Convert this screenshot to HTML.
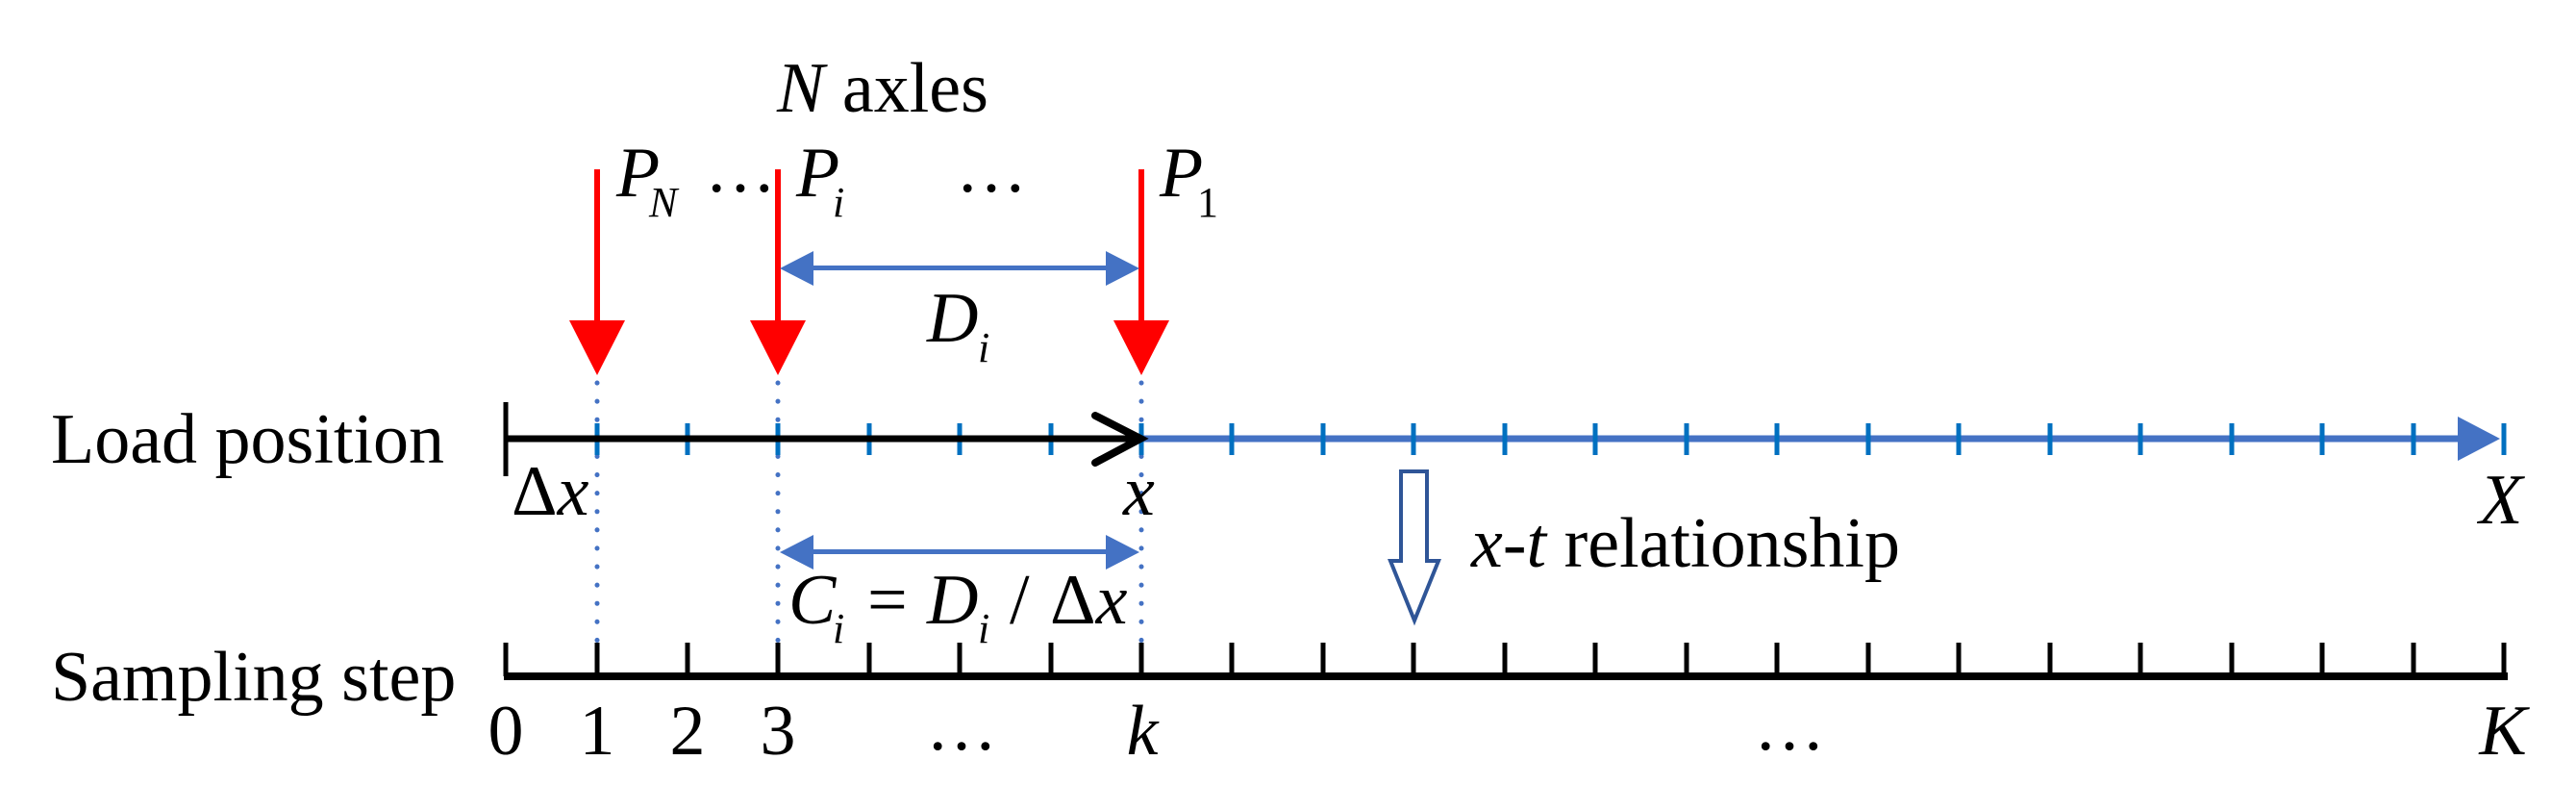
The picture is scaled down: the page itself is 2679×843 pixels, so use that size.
<!DOCTYPE html>
<html><head><meta charset="utf-8"><style>
html,body{margin:0;padding:0;background:#fff;}
svg{display:block;}
text{font-family:"Liberation Serif",serif;fill:#000;}
.i{font-style:italic;}
</style></head><body>
<svg width="2679" height="843" viewBox="0 0 2679 843" xmlns="http://www.w3.org/2000/svg">
<g font-size="74">
<text x="53" y="481">Load position</text>
<text x="53" y="728">Sampling step</text>
<text x="808" y="116"><tspan class="i">N</tspan> axles</text>
</g>
<!-- dotted lines -->
<g stroke="#4472c4" stroke-width="5" stroke-dasharray="0.1 19" stroke-linecap="round">
<line x1="621" y1="398" x2="621" y2="668"/>
<line x1="809" y1="398" x2="809" y2="668"/>
<line x1="1187" y1="398" x2="1187" y2="668"/>
</g>
<!-- red arrows -->
<g fill="#ff0000" stroke="none">
<rect x="618" y="176" width="6" height="160"/>
<polygon points="592,333 650,333 621,390"/>
<rect x="806" y="176" width="6" height="160"/>
<polygon points="780,333 838,333 809,390"/>
<rect x="1184" y="176" width="6" height="160"/>
<polygon points="1158,333 1216,333 1187,390"/>
</g>
<!-- D arrow -->
<g fill="#4472c4">
<rect x="840" y="276" width="320" height="5"/>
<polygon points="811,279 846,261 846,297"/>
<polygon points="1185,279 1150,261 1150,297"/>
<rect x="840" y="571" width="320" height="5"/>
<polygon points="811,574 846,556 846,592"/>
<polygon points="1185,574 1150,556 1150,592"/>
</g>
<!-- load axis -->
<line x1="1187" y1="456" x2="2560" y2="456" stroke="#4472c4" stroke-width="7"/>
<polygon points="2556,433 2600,456 2556,479" fill="#4472c4"/>
<g stroke="#0070c0" stroke-width="5">
<line x1="621" y1="440" x2="621" y2="473"/><line x1="715" y1="440" x2="715" y2="473"/><line x1="809" y1="440" x2="809" y2="473"/><line x1="904" y1="440" x2="904" y2="473"/><line x1="998" y1="440" x2="998" y2="473"/><line x1="1093" y1="440" x2="1093" y2="473"/><line x1="1187" y1="440" x2="1187" y2="473"/><line x1="1281" y1="440" x2="1281" y2="473"/><line x1="1376" y1="440" x2="1376" y2="473"/><line x1="1470" y1="440" x2="1470" y2="473"/><line x1="1565" y1="440" x2="1565" y2="473"/><line x1="1659" y1="440" x2="1659" y2="473"/><line x1="1754" y1="440" x2="1754" y2="473"/><line x1="1848" y1="440" x2="1848" y2="473"/><line x1="1943" y1="440" x2="1943" y2="473"/><line x1="2037" y1="440" x2="2037" y2="473"/><line x1="2132" y1="440" x2="2132" y2="473"/><line x1="2226" y1="440" x2="2226" y2="473"/><line x1="2321" y1="440" x2="2321" y2="473"/><line x1="2415" y1="440" x2="2415" y2="473"/><line x1="2510" y1="440" x2="2510" y2="473"/><line x1="2604" y1="440" x2="2604" y2="473"/>
</g>
<line x1="526" y1="456" x2="1184" y2="456" stroke="#000" stroke-width="7"/>
<line x1="526" y1="418" x2="526" y2="495" stroke="#000" stroke-width="5"/>
<polyline points="1139,432 1186,456 1139,481" fill="none" stroke="#000" stroke-width="8" stroke-linecap="round" stroke-linejoin="miter"/>
<!-- sampling axis -->
<line x1="524" y1="703" x2="2608" y2="703" stroke="#000" stroke-width="8"/>
<g stroke="#000" stroke-width="5">
<line x1="526" y1="668" x2="526" y2="703"/><line x1="621" y1="668" x2="621" y2="703"/><line x1="715" y1="668" x2="715" y2="703"/><line x1="809" y1="668" x2="809" y2="703"/><line x1="904" y1="668" x2="904" y2="703"/><line x1="998" y1="668" x2="998" y2="703"/><line x1="1093" y1="668" x2="1093" y2="703"/><line x1="1187" y1="668" x2="1187" y2="703"/><line x1="1281" y1="668" x2="1281" y2="703"/><line x1="1376" y1="668" x2="1376" y2="703"/><line x1="1470" y1="668" x2="1470" y2="703"/><line x1="1565" y1="668" x2="1565" y2="703"/><line x1="1659" y1="668" x2="1659" y2="703"/><line x1="1754" y1="668" x2="1754" y2="703"/><line x1="1848" y1="668" x2="1848" y2="703"/><line x1="1943" y1="668" x2="1943" y2="703"/><line x1="2037" y1="668" x2="2037" y2="703"/><line x1="2132" y1="668" x2="2132" y2="703"/><line x1="2226" y1="668" x2="2226" y2="703"/><line x1="2321" y1="668" x2="2321" y2="703"/><line x1="2415" y1="668" x2="2415" y2="703"/><line x1="2510" y1="668" x2="2510" y2="703"/><line x1="2604" y1="668" x2="2604" y2="703"/>
</g>
<!-- hollow arrow -->
<polygon points="1457,490 1484,490 1484,583 1496,583 1471,645 1446,583 1457,583" fill="#fff" stroke="#2f5597" stroke-width="4" stroke-linejoin="miter"/>
<!-- labels -->
<g font-size="74">
<text x="641" y="204" class="i">P</text><text x="675" y="225" class="i" font-size="44">N</text>
<text x="733" y="199">…</text>
<text x="828" y="204" class="i">P</text><text x="866" y="225" class="i" font-size="44">i</text>
<text x="994" y="199">…</text>
<text x="1206" y="204" class="i">P</text><text x="1245" y="225" font-size="44">1</text>
<text x="964" y="355" class="i">D</text><text x="1017" y="376" class="i" font-size="44">i</text>
<text x="532" y="535">Δ<tspan class="i">x</tspan></text>
<text x="1168" y="535" class="i">x</text>
<text x="2601" y="544" class="i" text-anchor="middle">X</text>
<text x="820" y="648" class="i">C</text><text x="866" y="668" class="i" font-size="44">i</text>
<text x="902" y="648">=</text>
<text x="964" y="648" class="i">D</text><text x="1017" y="668" class="i" font-size="44">i</text>
<text x="1050" y="648">/</text>
<text x="1092" y="648">Δ<tspan class="i">x</tspan></text>
<text x="1530" y="589"><tspan class="i">x</tspan>-<tspan class="i">t</tspan> relationship</text>
<g text-anchor="middle">
<text x="526" y="784">0</text><text x="621" y="784">1</text><text x="715" y="784">2</text><text x="809" y="784">3</text>
<text x="1000" y="779">…</text>
<text x="1188" y="784" class="i">k</text>
<text x="1861" y="779">…</text>
<text x="2603" y="784" class="i">K</text>
</g>
</g>
</svg>
</body></html>
